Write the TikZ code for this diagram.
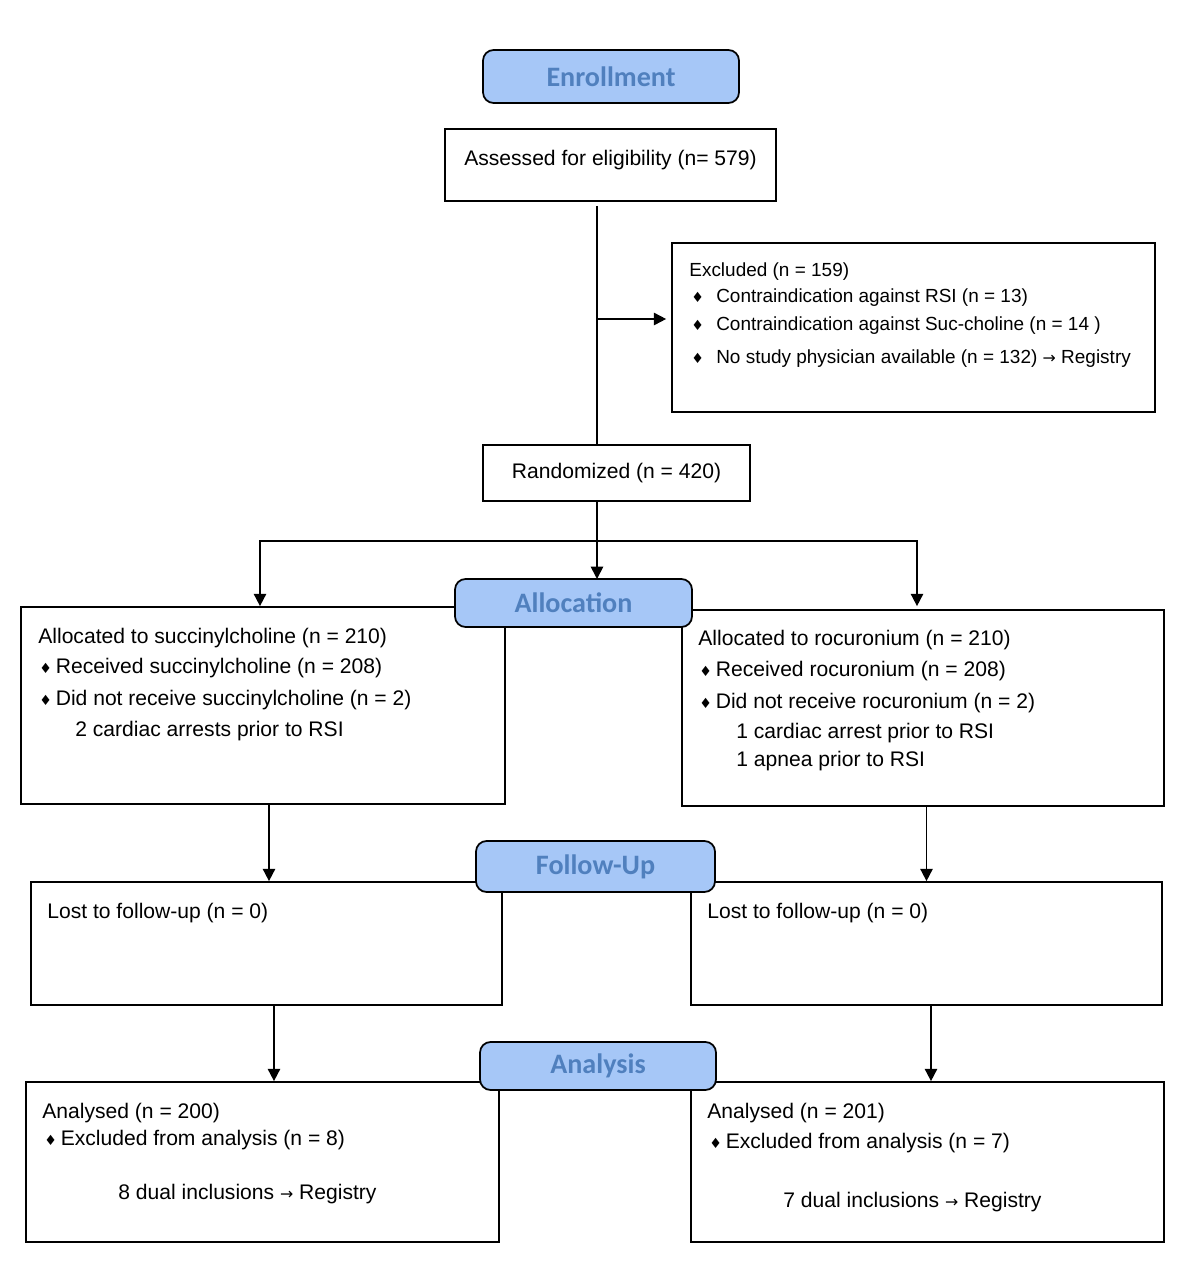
\documentclass[tikz,border=0pt]{standalone}
\usepackage{fontspec}
\setmainfont{Liberation Sans}
\newfontfamily\headfont{Carlito}
\newfontfamily\symfont{DejaVu Sans}
\usetikzlibrary{positioning,arrows.meta,calc}

\definecolor{headfill}{RGB}{166,199,247}
\definecolor{headtext}{RGB}{80,128,190}

\newcommand{\bul}[1][2.2pt]{{\symfont\fontsize{8}{8}\selectfont ♦}\hspace{#1}}
\newcommand{\toreg}{{\symfont\fontsize{9}{9}\selectfont →}}

\tikzset{
  box/.style={draw, line width=1pt, fill=white, inner sep=0pt},
  stagehead/.style={draw, line width=1pt, fill=headfill, rounded corners=6pt,
    text=headtext, font=\headfont\bfseries\fontsize{16}{18}\selectfont,
    minimum width=4.74cm, minimum height=0.96cm, inner sep=0pt},
  txt/.style={anchor=west, inner sep=0pt, yshift=-0.04cm, font=\fontsize{12}{14}\selectfont},
  smalltxt/.style={txt, font=\fontsize{10.8}{13}\selectfont},
  arr/.style={line width=1pt, -{Triangle[width=7pt,length=7pt]}},
  link/.style={line width=1pt}
}

\begin{document}
\begin{tikzpicture}[x=0.02cm, y=-0.02cm]
\useasboundingbox (0,0) rectangle (1200,1287);

% boxes
\node[box, minimum width=6.62cm, minimum height=1.44cm] (assess) at (610.5,165) {};
\node[box, minimum width=9.66cm, minimum height=3.38cm] (excl) at (913.5,327.5) {};
\node[box, minimum width=5.34cm, minimum height=1.12cm, font=\fontsize{12}{14}\selectfont] (rand) at (616.5,473) {Randomized (n = 420)};
\node[box, minimum width=9.68cm, minimum height=3.94cm] (allocL) at (263,705.5) {};
\node[box, minimum width=9.64cm, minimum height=3.92cm] (allocR) at (923,708) {};
\node[box, minimum width=9.42cm, minimum height=2.46cm] (lostL) at (266.5,943.5) {};
\node[box, minimum width=9.42cm, minimum height=2.46cm] (lostR) at (926.5,943.5) {};
\node[box, minimum width=9.46cm, minimum height=3.2cm] (anaL) at (262.5,1162) {};
\node[box, minimum width=9.46cm, minimum height=3.2cm] (anaR) at (927.5,1162) {};

% texts
\node[txt, anchor=center] at (610.5,158) {Assessed for eligibility (n= 579)};

\node[smalltxt] at (689,270) {Excluded (n = 159)};
\node[smalltxt] at (691,296) {\bul[7pt]Contraindication against RSI (n = 13)};
\node[smalltxt] at (691,324) {\bul[7pt]Contraindication against Suc-choline (n = 14 )};
\node[smalltxt] at (691,357) {\bul[7pt]No study physician available (n = 132) \toreg{} Registry};

\node[txt] at (38,636) {Allocated to succinylcholine (n = 210)};
\node[txt] at (39,666) {\bul Received succinylcholine (n = 208)};
\node[txt] at (39,698) {\bul Did not receive succinylcholine (n = 2)};
\node[txt] at (75,729) {2 cardiac arrests prior to RSI};

\node[txt] at (698,638) {Allocated to rocuronium (n = 210)};
\node[txt] at (699,669) {\bul Received rocuronium (n = 208)};
\node[txt] at (699,701) {\bul Did not receive rocuronium (n = 2)};
\node[txt] at (736,731) {1 cardiac arrest prior to RSI};
\node[txt] at (736,759) {1 apnea prior to RSI};

\node[txt] at (47,911) {Lost to follow-up (n = 0)};
\node[txt] at (707,911) {Lost to follow-up (n = 0)};

\node[txt] at (42,1111) {Analysed (n = 200)};
\node[txt] at (44,1138) {\bul Excluded from analysis (n = 8)};
\node[txt] at (118,1192) {8 dual inclusions \toreg{} Registry};

\node[txt] at (707,1111) {Analysed (n = 201)};
\node[txt] at (709,1141) {\bul Excluded from analysis (n = 7)};
\node[txt] at (783,1200) {7 dual inclusions \toreg{} Registry};

% connectors
\coordinate (split) at (597,541);
\draw[link] ([yshift=-0.08cm]assess.south -| split) -- (rand.north -| split);
\draw[arr] ([yshift=0.17cm]excl.west -| split) -- ([yshift=0.17cm,xshift=-0.1cm]excl.west);
\draw[link] (rand.south -| split) -- (split);
\draw[arr] (split) -| ([xshift=-0.06cm]allocL.north);
\draw[arr] (split) -| ([xshift=-0.12cm,yshift=0.06cm]allocR.north);
\draw[arr] (split) -- (597,579);
\draw[arr] ([xshift=0.05cm]allocL.south -| lostL.north) -- ([xshift=0.05cm]lostL.north);
\draw[arr] (allocR.south -| lostR.north) -- (lostR.north);
\draw[arr] ([xshift=0.15cm]lostL.south) -- ([xshift=0.15cm]lostL.south |- anaL.north);
\draw[arr] ([xshift=0.09cm]lostR.south) -- ([xshift=0.09cm]lostR.south |- anaR.north);

% stage headers
\node[stagehead, minimum width=5.12cm, minimum height=1.06cm] (enroll) at (611,76.5) {Enrollment};
\node[stagehead] (allochead) at (573.5,603) {Allocation};
\node[stagehead, minimum width=4.78cm, minimum height=1.02cm] (followhead) at (595.5,866.5) {Follow-Up};
\node[stagehead, minimum width=4.72cm] (anahead) at (598,1066) {Analysis};
\end{tikzpicture}
\end{document}
